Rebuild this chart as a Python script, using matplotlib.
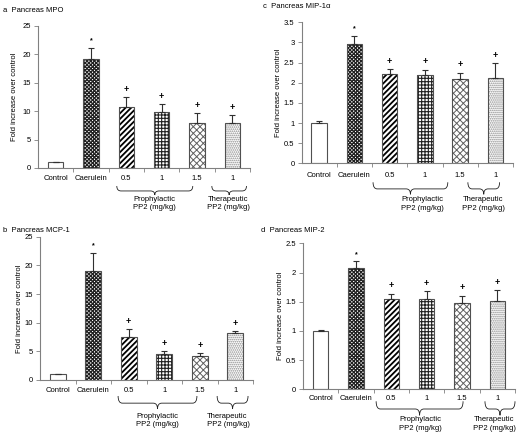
import matplotlib
matplotlib.use('Agg')
import matplotlib.pyplot as plt
import matplotlib.transforms as mtransforms
from matplotlib.path import Path
from matplotlib.patches import PathPatch
from matplotlib.ticker import FuncFormatter

plt.rcParams['font.family'] = ['Liberation Sans', 'DejaVu Sans']
plt.rcParams['font.size'] = 5.5

# Data

groups = ['Control', 'Caerulein', '0.5', '1', '1.5', '1']
marks = ['', '*', '+', '+', '+', '+']

mpo_mean = [1.0, 19.2, 10.8, 9.8, 8.0, 7.9]
mpo_err = [0.1, 2.0, 1.65, 1.45, 1.65, 1.35]

mip1a_mean = [1.0, 2.97, 2.22, 2.2, 2.09, 2.11]
mip1a_err = [0.04, 0.2, 0.12, 0.12, 0.16, 0.38]

mcp1_mean = [1.0, 19.1, 7.5, 4.5, 4.2, 8.2]
mcp1_err = [0.1, 3.1, 1.4, 0.55, 0.5, 0.35]

mip2_mean = [1.0, 2.08, 1.55, 1.55, 1.47, 1.51]
mip2_err = [0.01, 0.11, 0.09, 0.13, 0.13, 0.19]

# Bar styles: hatch, hatch colour and hatch line width per group
hatches = ['', 'xxxxxxxxx', '//////', '+++++', 'xxxxx', '........']
hatch_colors = ['white', '#202020', 'black', '#202020', '#606060', '#8a8a8a']
hatch_widths = [0.8, 0.9, 1.3, 0.8, 0.7, 0.8]

W, H = 517, 432
fig = plt.figure(figsize=(W / 100, H / 100), dpi=100)


def brace(ax, x0, x1, y0, h):
    xm = (x0 + x1) / 2
    r = 0.12
    ym = y0 - h * 0.55
    verts = [(x0, y0), (x0, ym), (x0 + r, ym),
             (xm - r, ym), (xm, ym), (xm, y0 - h),
             (xm, ym), (xm + r, ym),
             (x1 - r, ym), (x1, ym), (x1, y0)]
    codes = [Path.MOVETO, Path.CURVE3, Path.CURVE3,
             Path.LINETO, Path.CURVE3, Path.CURVE3,
             Path.CURVE3, Path.CURVE3,
             Path.LINETO, Path.CURVE3, Path.CURVE3]
    trans = mtransforms.blended_transform_factory(ax.transData, ax.transAxes)
    ax.add_patch(PathPatch(Path(verts, codes), fill=False, lw=0.6, color='#202020',
                           transform=trans, clip_on=False))


def panel(rect, means, errs, ymax, ystep, title, title_xy, ylab_x,
          pro_span, ther_span, pro_x, ther_x, lab_px, brace_px, text_px):
    ax = fig.add_axes(rect)
    x = list(range(len(means)))
    for i in x:
        with plt.rc_context({'hatch.linewidth': hatch_widths[i]}):
            ax.bar(i, means[i], width=0.44, color='white', hatch=hatches[i],
                   edgecolor=hatch_colors[i], lw=0)
    ax.bar(x, means, width=0.44, fill=False, edgecolor='#505050', lw=0.8)
    ax.errorbar(x, means, yerr=[[0] * len(errs), errs], fmt='none', ecolor='#303030',
                elinewidth=0.8, capsize=2, capthick=0.8)
    for i in x:
        if marks[i]:
            ax.annotate(marks[i], (i, means[i] + errs[i]), xytext=(0, 2.5),
                        textcoords='offset points', ha='center', va='bottom',
                        fontsize=6.5 if marks[i] == '+' else 5, fontweight='bold')
    ax.set_xlim(-0.5, len(means) - 0.5)
    ax.set_ylim(0, ymax)
    n = int(round(ymax / ystep))
    ax.set_yticks([k * ystep for k in range(n + 1)])
    ax.yaxis.set_major_formatter(FuncFormatter(lambda v, p: '%g' % v))
    ax.set_xticks([i + 0.5 for i in x[:-1]] + [len(means) - 0.5])
    ax.set_xticklabels([])
    ax.tick_params(axis='x', length=3, width=0.6, color='#808080')
    ax.tick_params(axis='y', length=3, width=0.6, color='#808080', pad=2)
    for s in ['top', 'right']:
        ax.spines[s].set_visible(False)
    for s in ['left', 'bottom']:
        ax.spines[s].set_color('#808080')
        ax.spines[s].set_linewidth(0.8)

    hpx = rect[3] * H
    tr = mtransforms.blended_transform_factory(ax.transData, ax.transAxes)
    for i, g in enumerate(groups):
        ax.text(i, -lab_px / hpx, g, transform=tr, ha='center', va='center')
    brace(ax, pro_span[0], pro_span[1], -brace_px[0] / hpx, (brace_px[1] - brace_px[0]) / hpx)
    brace(ax, ther_span[0], ther_span[1], -brace_px[0] / hpx, (brace_px[1] - brace_px[0]) / hpx)
    ax.text(pro_x, -text_px / hpx, 'Prophylactic\nPP2 (mg/kg)', transform=tr,
            ha='center', va='top', linespacing=1.25)
    ax.text(ther_x, -text_px / hpx, 'Therapeutic\n PP2 (mg/kg)', transform=tr,
            ha='center', va='top', linespacing=1.25)

    fig.text(title_xy[0] / W, 1 - title_xy[1] / H, title, ha='left', va='center')
    fig.text(ylab_x / W, rect[1] + rect[3] / 2, 'Fold increase over control',
             rotation=90, ha='center', va='center')
    return ax


panel([38 / W, 1 - 168 / H, 212 / W, 142 / H], mpo_mean, mpo_err, 25, 5,
      'a  Pancreas MPO', (3, 10), 15,
      (1.73, 3.88), (4.42, 5.4), 2.8, 4.87, 10, (18, 27), 28)
panel([301.5 / W, 1 - 163.3 / H, 211.5 / W, 141 / H], mip1a_mean, mip1a_err, 3.5, 0.5,
      'c  Pancreas MIP-1\u03b1', (263, 7), 278,
      (1.53, 3.65), (4.22, 5.12), 2.92, 4.64, 12, (19, 31), 33)
panel([40 / W, 1 - 380 / H, 213 / W, 143.3 / H], mcp1_mean, mcp1_err, 25, 5,
      'b  Pancreas MCP-1', (3, 231), 20,
      (1.7, 3.92), (4.49, 5.36), 2.8, 4.78, 11, (16, 29), 33)
panel([303 / W, 1 - 389.3 / H, 212 / W, 146 / H], mip2_mean, mip2_err, 2.5, 0.5,
      'd  Pancreas MIP-2', (261, 231), 280,
      (1.57, 4.03), (4.65, 5.5), 2.83, 4.9, 9, (12, 26), 27)

fig.savefig('out.png', dpi=100)
